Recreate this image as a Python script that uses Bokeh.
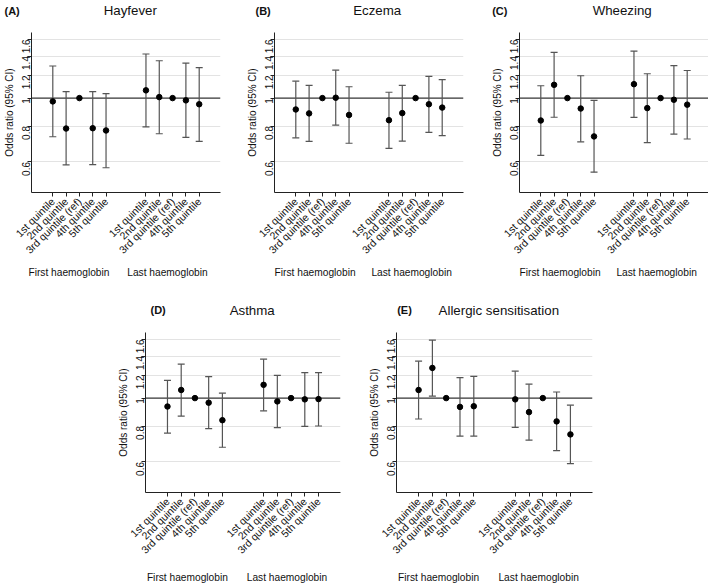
import math
from bokeh.plotting import figure
from bokeh.models import (Range1d, FixedTicker, Span, Whisker, TeeHead,
                          ColumnDataSource, CustomJSTickFormatter, Spacer)
from bokeh.core.properties import value
from bokeh.layouts import column, row
from bokeh.embed import file_html
from bokeh.resources import INLINE

# ---------------- data ----------------
quintiles = ["1st quintile", "2nd quintile", "3rd quintile (ref)", "4th quintile", "5th quintile"]
groups = ["First haemoglobin", "Last haemoglobin"]
y_ticks = [0.6, 0.8, 1, 1.2, 1.4, 1.6]

hayfever_or = [0.974, 0.784, 1.0, 0.786, 0.772, 1.064, 1.008, 1.0, 0.982, 0.952]
hayfever_lo = [0.734, 0.586, 1.0, 0.587, 0.573, 0.794, 0.752, 1.0, 0.731, 0.708]
hayfever_hi = [1.293, 1.053, 1.0, 1.053, 1.037, 1.423, 1.348, 1.0, 1.323, 1.276]

eczema_or = [0.913, 0.885, 1.0, 1.003, 0.874, 0.838, 0.887, 1.0, 0.952, 0.927]
eczema_lo = [0.728, 0.707, 1.0, 0.806, 0.697, 0.669, 0.709, 1.0, 0.760, 0.741]
eczema_hi = [1.145, 1.107, 1.0, 1.250, 1.095, 1.048, 1.107, 1.0, 1.190, 1.160]

wheezing_or = [0.836, 1.112, 1.0, 0.920, 0.736, 1.118, 0.923, 1.0, 0.987, 0.949]
wheezing_lo = [0.633, 0.858, 1.0, 0.705, 0.553, 0.857, 0.700, 1.0, 0.750, 0.721]
wheezing_hi = [1.104, 1.442, 1.0, 1.196, 0.982, 1.457, 1.215, 1.0, 1.297, 1.247]

asthma_or = [0.935, 1.067, 1.0, 0.964, 0.838, 1.112, 0.974, 1.0, 0.990, 0.992]
asthma_lo = [0.756, 0.866, 1.0, 0.783, 0.675, 0.903, 0.790, 1.0, 0.798, 0.800]
asthma_hi = [1.153, 1.313, 1.0, 1.187, 1.040, 1.365, 1.199, 1.0, 1.227, 1.227]

allergic_or = [1.067, 1.273, 1.0, 0.932, 0.937, 0.990, 0.894, 1.0, 0.830, 0.748]
allergic_lo = [0.846, 1.016, 1.0, 0.738, 0.738, 0.791, 0.714, 1.0, 0.657, 0.592]
allergic_hi = [1.344, 1.591, 1.0, 1.178, 1.190, 1.240, 1.118, 1.0, 1.050, 0.945]

# ---------------- style ----------------
FONT = "Liberation Sans"
TXT = "#111111"
BAR = "#555555"
X0, X1 = -0.6, 13.6
Y0, Y1 = 0.47, 1.69
GROUP_X = [2.45, 9.7]
FRAME_H = 164
PANEL_TOP = 5


def text_fig(width, height):
    f = figure(width=width, height=height, x_range=Range1d(0, width),
               y_range=Range1d(0, height), output_backend="svg",
               toolbar_location=None, min_border=0,
               min_border_left=0, min_border_right=0,
               min_border_top=0, min_border_bottom=0,
               x_axis_location=None, y_axis_location=None,
               frame_align=False)
    f.outline_line_color = None
    f.grid.visible = False
    f.background_fill_color = "white"
    f.border_fill_color = "white"
    return f


def make_panel(letter, title, ors, los, his, width, bl, br, title_h, bb, foot_h,
               letter_dx, title_dx, title_up, group_dy):
    fw = width - bl - br
    height = PANEL_TOP + FRAME_H + bb

    p = figure(width=width, height=height, x_range=Range1d(X0, X1),
               y_range=Range1d(Y0, Y1), y_axis_type="log",
               output_backend="svg", toolbar_location=None,
               min_border_left=bl, min_border_right=br,
               min_border_top=PANEL_TOP, min_border_bottom=bb,
               frame_align=False)
    p.outline_line_color = None
    p.background_fill_color = "white"
    p.border_fill_color = "white"

    xs = [i + 1 + 7 * g for g in range(2) for i in range(5)]

    # x axis
    xa = p.xaxis[0]
    xa.ticker = FixedTicker(ticks=xs)
    xa.major_label_overrides = {x: q for x, q in zip(xs, quintiles * 2)}
    xa.major_label_orientation = math.pi / 4
    xa.major_label_text_font = FONT
    xa.major_label_text_font_size = "10.5px"
    xa.major_label_text_color = TXT
    xa.major_label_standoff = 3
    xa.major_tick_out = 4
    xa.major_tick_in = 0
    xa.minor_tick_line_color = None
    xa.axis_line_color = "#222222"
    xa.major_tick_line_color = "#222222"

    # y axis
    ya = p.yaxis[0]
    ya.ticker = FixedTicker(ticks=y_ticks)
    ya.formatter = CustomJSTickFormatter(code="return String(tick)")
    ya.major_label_orientation = math.pi / 2
    ya.major_label_text_font = FONT
    ya.major_label_text_font_size = "10px"
    ya.major_label_text_color = TXT
    ya.major_label_standoff = 1
    ya.major_tick_out = 4
    ya.major_tick_in = 0
    ya.minor_tick_line_color = None
    ya.axis_line_color = "#222222"
    ya.major_tick_line_color = "#222222"
    ya.axis_label = "Odds ratio (95% CI)"
    ya.axis_label_text_font = FONT
    ya.axis_label_text_font_size = "10px"
    ya.axis_label_text_font_style = "normal"
    ya.axis_label_text_color = TXT
    ya.axis_label_standoff = 1

    # grids
    p.xgrid.visible = False
    p.ygrid.ticker = FixedTicker(ticks=[t for t in y_ticks if t != 1])
    p.ygrid.grid_line_color = "#e3e3e3"
    p.ygrid.grid_line_width = 1

    p.add_layout(Span(location=1, dimension="width", line_color="black",
                      line_width=1, level="underlay"))

    # error bars (reference category has none)
    wx = [x for x, l, h in zip(xs, los, his) if h != l]
    wl = [l for l, h in zip(los, his) if h != l]
    wh = [h for l, h in zip(los, his) if h != l]
    src = ColumnDataSource(dict(x=wx, lo=wl, hi=wh))
    p.add_layout(Whisker(source=src, base="x", lower="lo", upper="hi",
                         dimension="height", line_color=BAR, line_width=1.2,
                         upper_head=TeeHead(size=7, line_color=BAR, line_width=1.2),
                         lower_head=TeeHead(size=7, line_color=BAR, line_width=1.2)))

    p.scatter(xs, ors, size=5.5, color="black")

    # heading strip
    t = text_fig(width, title_h)
    base_y = title_h + PANEL_TOP - title_up
    t.text(x=[bl + letter_dx], y=[title_h - base_y], text=[f"({letter})"],
           text_font=value(FONT), text_font_size="11px", text_font_style="bold",
           text_color=TXT, text_align="left", text_baseline="alphabetic")
    t.text(x=[bl + title_dx], y=[title_h - base_y], text=[title],
           text_font=value(FONT), text_font_size="13.3px",
           text_color=TXT, text_align="center", text_baseline="alphabetic")

    # group label strip
    f = text_fig(width, foot_h)
    gxs = [bl + (gx - X0) / (X1 - X0) * fw for gx in GROUP_X]
    gy = foot_h - (group_dy - bb)
    f.text(x=gxs, y=[gy, gy], text=groups,
           text_font=value(FONT), text_font_size="10.2px",
           text_color=TXT, text_align="center", text_baseline="middle")

    return column(t, p, f)


# top row: 0..290 px ; bottom row: 290..583 px
pA = make_panel("A", "Hayfever", hayfever_or, hayfever_lo, hayfever_hi,
                235, 27, 15, 27, 66, 28, -23, 102.8, 22, 75.5)
pB = make_panel("B", "Eczema", eczema_or, eczema_lo, eczema_hi,
                235, 39, 7, 27, 66, 28, -19, 102.7, 22, 75.5)
pC = make_panel("C", "Wheezing", wheezing_or, wheezing_lo, wheezing_hi,
                238, 49, 0, 27, 66, 28, -27.3, 102.7, 22, 75.5)
pD = make_panel("D", "Asthma", asthma_or, asthma_lo, asthma_hi,
                247, 35, 17, 37, 66, 21, 5, 106.7, 22.5, 80.5)
pE = make_panel("E", "Allergic sensitisation", allergic_or, allergic_lo, allergic_hi,
                258, 39, 23, 37, 66, 21, 0.7, 102.3, 22.5, 80.5)

layout = column(row(pA, pB, pC), row(Spacer(width=110, height=10), pD, pE))

open("out.html", "w").write(file_html(layout, INLINE))
